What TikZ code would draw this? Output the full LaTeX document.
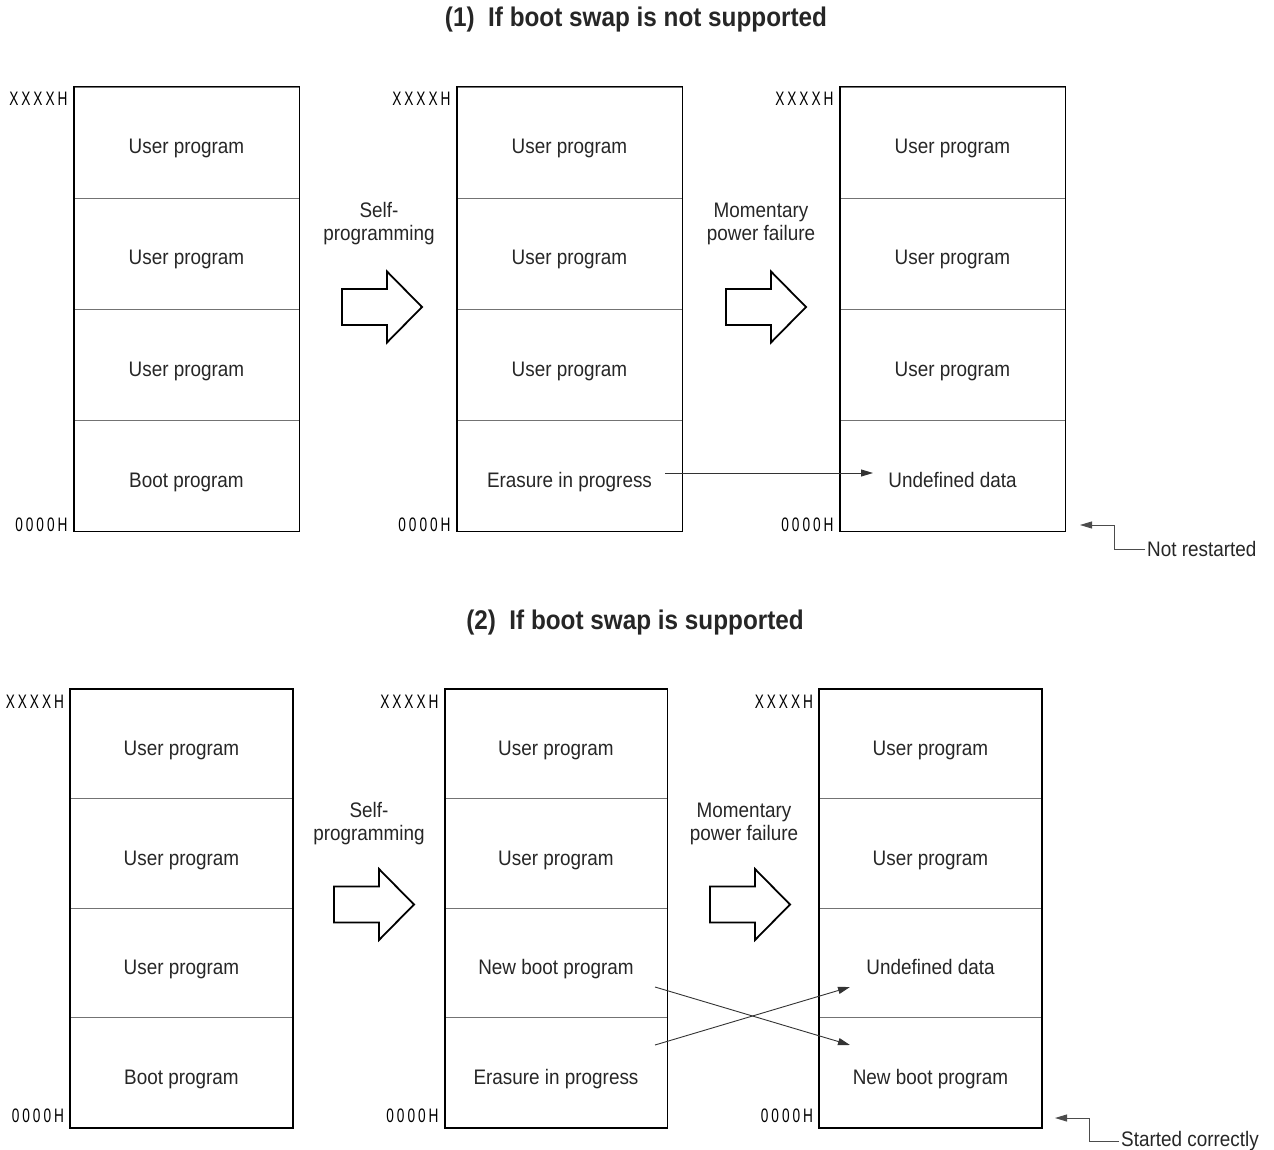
\documentclass[tikz,border=0pt]{standalone}
\usepackage{fontspec}
\setmainfont{Liberation Sans}[FakeStretch=0.9]
\newfontfamily\addrfont[FakeStretch=0.7,LetterSpace=15]{Liberation Sans}
\usetikzlibrary{arrows.meta,calc}
\begin{document}
\begin{tikzpicture}[x=1pt,y=-1pt,
  font=\fontsize{21}{23}\selectfont,
  every node/.style={text=black!85},
  cellA/.style={draw=black!55, line width=0.8pt, minimum width=225pt, minimum height=111pt, inner sep=0pt, text height=23pt, text depth=0pt},
  cellB/.style={draw=black!55, line width=0.8pt, minimum width=222pt, minimum height=109.5pt, inner sep=0pt, text height=23pt, text depth=0pt},
  outer/.style={draw=black, line width=1.8pt},
  addr/.style={font=\addrfont\fontsize{19.5}{21}\selectfont, inner sep=0pt, text=black},
  title/.style={font=\bfseries\fontsize{27}{30}\selectfont},
  steplabel/.style={align=center},
  conn/.style={draw=black!80, line width=0.9pt, -{Triangle[length=12pt,width=7pt]}},
  note/.style={draw=black!70, line width=0.9pt, -{Triangle[length=12pt,width=7pt]}},
  harrow/.pic={\draw[line width=1.8pt, line join=miter, fill=white] (0,-18) -- (45,-18) -- (45,-35.5) -- (80,0) -- (45,35.5) -- (45,18) -- (0,18) -- cycle;}
]
\useasboundingbox (0,0) rectangle (1274,1150);

% ---------- Section 1 ----------
\node[title] (t1) at (636,20) {(1)\enspace If boot swap is not supported};

% box A1
\node[cellA] (a11) at (186.5,142.5) {User program};
\node[cellA] (a12) at (186.5,253.5) {User program};
\node[cellA] (a13) at (186.5,364.5) {User program};
\node[cellA] (a14) at (186.5,475.5) {Boot program};
\draw[outer] (a11.north west) rectangle (a14.south east);
% box A2
\node[cellA] (a21) at (569.5,142.5) {User program};
\node[cellA] (a22) at (569.5,253.5) {User program};
\node[cellA] (a23) at (569.5,364.5) {User program};
\node[cellA] (a24) at (569.5,475.5) {Erasure in progress};
\draw[outer] (a21.north west) rectangle (a24.south east);
% box A3
\node[cellA] (a31) at (952.5,142.5) {User program};
\node[cellA] (a32) at (952.5,253.5) {User program};
\node[cellA] (a33) at (952.5,364.5) {User program};
\node[cellA] (a34) at (952.5,475.5) {Undefined data};
\draw[outer] (a31.north west) rectangle (a34.south east);

\foreach \b in {a1,a2,a3}{
  \node[addr, anchor=base east] (\b top) at ($(\b1.north west)+(-6,19)$) {XXXXH};
  \node[addr, anchor=base east] (\b bot) at ($(\b4.south west)+(-6,0)$) {0000H};
}

\node[steplabel] (sp1) at (379,224) {Self-\\programming};
\node[steplabel] (pf1) at (761,224) {Momentary\\power failure};
\pic at (342,307) {harrow};
\pic at (726,307) {harrow};

\coordinate (e1s) at (665,473);
\coordinate (e1t) at (873,473);
\draw[conn] (e1s) -- (e1t);

\node[anchor=west, inner sep=2pt] (nr) at (1145,549) {Not restarted};
\coordinate (nrk) at (1114,525);
\coordinate (nrt) at (1080,525);
\draw[note] (nr.west) -| (nrk) -- (nrt);

% ---------- Section 2 ----------
\node[title] (t2) at (635,623) {(2)\enspace If boot swap is supported};

% box B1
\node[cellB] (b11) at (181.5,744) {User program};
\node[cellB] (b12) at (181.5,853.5) {User program};
\node[cellB] (b13) at (181.5,963) {User program};
\node[cellB] (b14) at (181.5,1072.5) {Boot program};
\draw[outer] (b11.north west) rectangle (b14.south east);
% box B2
\node[cellB] (b21) at (556,744) {User program};
\node[cellB] (b22) at (556,853.5) {User program};
\node[cellB] (b23) at (556,963) {New boot program};
\node[cellB] (b24) at (556,1072.5) {Erasure in progress};
\draw[outer] (b21.north west) rectangle (b24.south east);
% box B3
\node[cellB] (b31) at (930.5,744) {User program};
\node[cellB] (b32) at (930.5,853.5) {User program};
\node[cellB] (b33) at (930.5,963) {Undefined data};
\node[cellB] (b34) at (930.5,1072.5) {New boot program};
\draw[outer] (b31.north west) rectangle (b34.south east);

\foreach \b in {b1,b2,b3}{
  \node[addr, anchor=base east] (\b top) at ($(\b1.north west)+(-6,20)$) {XXXXH};
  \node[addr, anchor=base east] (\b bot) at ($(\b4.south west)+(-6,-5)$) {0000H};
}

\node[steplabel] (sp2) at (369,824) {Self-\\programming};
\node[steplabel] (pf2) at (744,824) {Momentary\\power failure};
\pic at (334,904.5) {harrow};
\pic at (710,904.5) {harrow};

\coordinate (x1s) at (655,987);
\coordinate (x1t) at (850,1045);
\coordinate (x2s) at (655,1045);
\coordinate (x2t) at (850,987);
\draw[conn] (x1s) -- (x1t);
\draw[conn] (x2s) -- (x2t);

\node[anchor=west, inner sep=2pt] (sc) at (1119,1141) {Started correctly};
\coordinate (sck) at (1089,1118);
\coordinate (sct) at (1055,1118);
\draw[note] (sc.west) -| (sck) -- (sct);
\end{tikzpicture}
\end{document}
